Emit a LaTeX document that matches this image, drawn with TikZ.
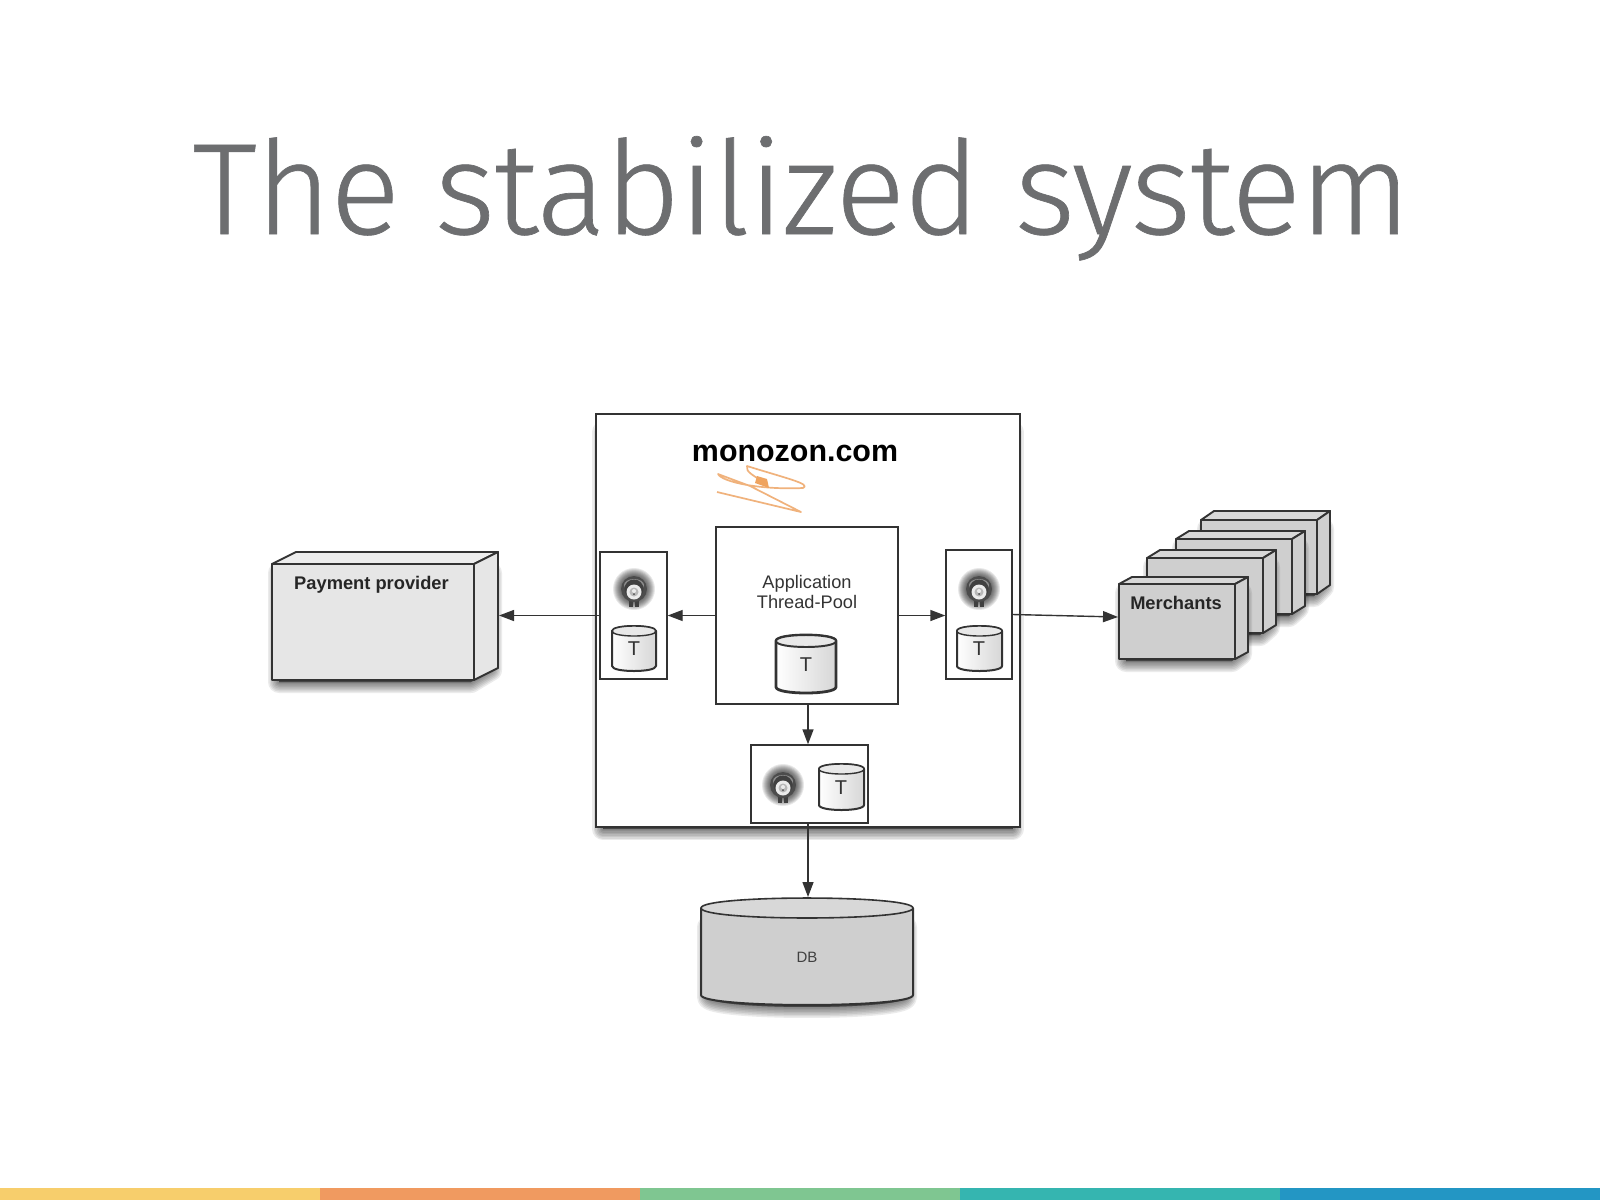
\documentclass[tikz,border=0pt]{standalone}
\usepackage{fontspec}
\setmainfont{Liberation Sans}
\newfontfamily\titlefont[FakeBold=.5,LetterSpace=-0.95]{Fira Sans Light}
\usetikzlibrary{arrows.meta,fit}
\definecolor{titlegray}{HTML}{6D6E70}
\definecolor{lineink}{HTML}{333333}
\definecolor{paleface}{HTML}{E6E6E6}
\definecolor{paletop}{HTML}{EDEDED}
\definecolor{midface}{HTML}{CFCFCF}
\definecolor{midtop}{HTML}{D8D8D8}
\definecolor{scribble}{HTML}{F0B27C}
\definecolor{scribblehead}{HTML}{EFA460}
\definecolor{barA}{HTML}{F7CE6C}
\definecolor{barB}{HTML}{F09A60}
\definecolor{barC}{HTML}{7FC691}
\definecolor{barD}{HTML}{35B5B0}
\definecolor{barE}{HTML}{2396C4}
\tikzset{
  panel/.style={draw=lineink,fill=white,line width=1pt,inner sep=0pt},
  thinpanel/.style={draw=lineink,fill=white,line width=.7pt,inner sep=0pt},
  flow/.style={draw=lineink,line width=.7pt,-{Triangle[length=7.5pt,width=5.5pt]}},
  edge3d/.style={draw=lineink,line width=.95pt,line join=round},
  cyledge/.style={draw=lineink,line join=round},
  tlabel/.style={font=\fontsize{10}{12}\selectfont,text=lineink,inner sep=0pt},
  boldlabel/.style={font=\bfseries\fontsize{9.15}{11}\selectfont,text=black!85,inner sep=0pt},
}
% soft shadow under a closed path (the path is given inset from the shape)
\newcommand{\softshadow}[1]{%
  \foreach \wd in {11,9.5,8,6.5,5,3.5,2,.5}{%
    \path[draw=black,fill=black,line join=round,line width=\wd pt,opacity=.08,yshift=-1pt] #1;}}
% box drawn by its corners, as a named node
\newcommand{\cornerbox}[6]{%
  \path (#2,#3) coordinate (#1-a) (#4,#5) coordinate (#1-b);
  \node[#6,fit=(#1-a)(#1-b)] (#1) {};}
% 3-D block: name, x1,y1,x2,y2 front face, dx, dy, face, top
\newcommand{\block}[9]{%
  \softshadow{(#2+7,#3+7) -- (#4+#6-7,#3+7) -- (#4+#6-7,#5-#7) -- (#4-3,#5) -- (#2+7,#5) -- cycle}
  \path[edge3d,fill=#9] (#2,#3) -- (#2+#6,#3-#7) -- (#4+#6,#3-#7) -- (#4,#3) -- cycle;
  \path[edge3d,fill=#8] (#4,#3) -- (#4+#6,#3-#7) -- (#4+#6,#5-#7) -- (#4,#5) -- cycle;
  \path (#2,#3) coordinate (#1-a) (#4,#5) coordinate (#1-b);
  \node[edge3d,fill=#8,inner sep=0pt,fit=(#1-a)(#1-b)] (#1) {};}
% cylinder: x1,y1,x2,y2,ry,line width
\newcommand{\cyl}[6]{%
  \pgfmathsetmacro{\ymid}{#2+#5}%
  \pgfmathsetmacro{\ylow}{#4-#5}%
  \pgfmathsetmacro{\ybot}{#4+#5/3}%
  \pgfmathsetmacro{\ytopc}{#2-#5/3}%
  \pgfmathsetmacro{\ytopd}{#2+2*#5+#5/3}%
  \path[cyledge,line width=#6pt,left color=white,right color=black!16]
    (#1,\ymid) -- (#1,\ylow) .. controls (#1,\ybot) and (#3,\ybot) .. (#3,\ylow) -- (#3,\ymid)
    .. controls (#3,\ytopc) and (#1,\ytopc) .. (#1,\ymid) -- cycle;
  \path[cyledge,line width=#6pt*.7,fill=black!9]
    (#1,\ymid) .. controls (#1,\ytopc) and (#3,\ytopc) .. (#3,\ymid)
    .. controls (#3,\ytopd) and (#1,\ytopd) .. (#1,\ymid) -- cycle;}
% bulb icon, centre x,y
\newcommand{\bulb}[2]{%
  \begin{scope}[shift={(#1,#2)}]
    \foreach \r in {21,20,19,18,17,16,15,14}{\fill[black,opacity=.09] (0,0) circle[radius=\r];}
    \fill[black!75] (-5,10) rectangle (-1,18);
    \fill[black!75] (1,10) rectangle (5,18);
    \fill[black!70] (0,0) circle[radius=13];
    \fill[black!45] (0,-4) ellipse[x radius=10,y radius=6];
    \fill[black!75] (0,0) circle[radius=9.5];
    \fill[black!8] (0,3) circle[radius=7.5];
    \fill[black!28] (0,3) circle[radius=4.5];
    \fill[black!8] (0,2) circle[radius=2];
    \fill[black!70] (0,5) circle[radius=1];
  \end{scope}}
\begin{document}
\begin{tikzpicture}[x=.5pt,y=-.5pt]
\useasboundingbox (0,0) rectangle (1600,1200);
\fill[white] (0,0) rectangle (1600,1200);
% title
\node[anchor=base west,inner sep=0pt,text=titlegray,font=\titlefont\fontsize{65}{78}\selectfont] (title) at (192,234) {The stabilized system};
% bottom band
\fill[barA] (0,1188) rectangle (320,1200);
\fill[barB] (320,1188) rectangle (640,1200);
\fill[barC] (640,1188) rectangle (960,1200);
\fill[barD] (960,1188) rectangle (1280,1200);
\fill[barE] (1280,1188) rectangle (1600,1200);
% main box
\softshadow{(603,430) -- (1012.5,430) -- (1012.5,827) -- (603,827) -- cycle}
\cornerbox{main}{596}{414}{1019.5}{827}{panel}
\node[font=\bfseries\fontsize{15.2}{18}\selectfont,text=black,inner sep=0pt] (brand) at (795,453) {monozon.com};
% scribble
\draw[scribble,line width=.85pt,line join=round]
  (717,492) -- (801,512) -- (750,486) -- (718,474) .. controls (722,482) and (760,490) .. (803,488)
  .. controls (812,484) and (785,478) .. (747,466) .. controls (745,472) and (755,476) .. (763,482);
\fill[scribblehead,line join=round] (757,476) -- (767,479) -- (769,488) -- (755,483) -- cycle;
% inner boxes
\cornerbox{app}{716}{527}{898}{704}{panel}
\cornerbox{leftbh}{600}{552}{667}{679}{thinpanel}
\cornerbox{rightbh}{946}{550}{1012}{679}{thinpanel}
\cornerbox{bottombh}{751}{745}{868}{823}{thinpanel}
\node[font=\fontsize{9.1}{10.4}\selectfont,align=center,text=black!80,inner sep=0pt] (apptext) at (807,592) {Application\\Thread-Pool};
% cylinders
\cyl{612}{626}{656}{671}{5}{1}
\node[tlabel] (tleft) at (634,648.5) {T};
\cyl{957}{626}{1002}{671}{5}{1}
\node[tlabel] (tright) at (979,648.5) {T};
\cyl{776}{635}{836}{693}{6}{1.4}
\node[tlabel] (tapp) at (806,665) {T};
\cyl{819}{764}{864}{810}{5}{1}
\node[tlabel] (tbottom) at (841,788) {T};
% bulbs
\bulb{634}{589}
\bulb{979}{589}
\bulb{783}{785}
% payment provider
\block{pay}{272}{564}{474}{680}{24}{12}{paleface}{paletop}
\node[boldlabel] (paytext) at (371.5,584.5) {Payment provider};
\coordinate (payin) at (499,615.5);
% merchants (back to front)
\block{merchD}{1201}{520}{1317}{594}{13}{9}{midface}{midtop}
\block{merchC}{1176}{539}{1292}{614}{13}{8}{midface}{midtop}
\block{merchB}{1147}{558}{1263}{633}{13}{8}{midface}{midtop}
\block{merchA}{1119}{584}{1235}{659}{13}{7}{midface}{midtop}
\node[boldlabel] (merchtext) at (1176,603) {Merchants};
\coordinate (merchin) at (1118,617);
% database
\softshadow{(708,925) -- (708,995) .. controls (708,1008.3) and (906,1008.3) .. (906,995) -- (906,925) -- cycle}
\path[cyledge,line width=1pt,fill=midface]
  (701,908) -- (701,995) .. controls (701,1008.3) and (913,1008.3) .. (913,995) -- (913,908) -- cycle;
\path[cyledge,line width=.8pt,fill=midtop]
  (701,908) .. controls (701,894.7) and (913,894.7) .. (913,908) .. controls (913,921.3) and (701,921.3) .. (701,908) -- cycle;
\node[font=\fontsize{7.5}{9}\selectfont,text=black!75,inner sep=0pt] (db) at (807,957) {DB};
\coordinate (dbin) at (808,897);
% connectors
\draw[flow] (leftbh.west |- app.east) -- (payin);
\draw[flow] (app.west) -- (leftbh.east |- app.west);
\draw[flow] (app.east) -- (rightbh.west |- app.east);
\draw[flow] (rightbh.east) -- (merchin);
\draw[flow] (app.south -| dbin) -- (bottombh.north -| dbin);
\draw[flow] (bottombh.south -| dbin) -- (dbin);
\end{tikzpicture}
\end{document}
